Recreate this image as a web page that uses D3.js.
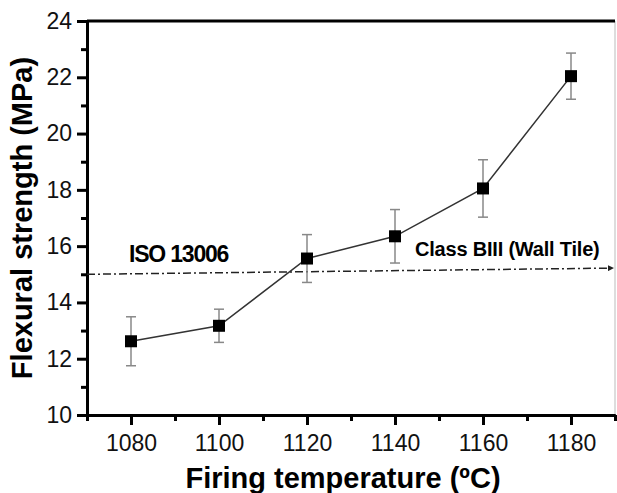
<!DOCTYPE html>
<html>
<head>
<meta charset="utf-8">
<script src="https://cdn.jsdelivr.net/npm/d3@7"></script>
<style>
  body { margin: 0; background: #fff; }
  text { font-family: "Liberation Sans", Arial, sans-serif; }
</style>
</head>
<body>
<div id="chart"></div>
<script>
// #############################################################
// DATA
// #############################################################
var temperatures = [1080, 1100, 1120, 1140, 1160, 1180];
var strength = [12.62, 13.17, 15.56, 16.35, 18.05, 22.04];
var strengthErr = [0.87, 0.59, 0.85, 0.95, 1.02, 0.82];

var xMajorTicks = [1080, 1100, 1120, 1140, 1160, 1180];
var xMinorTicks = [1070, 1090, 1110, 1130, 1150, 1170, 1190];
var yMajorTicks = [10, 12, 14, 16, 18, 20, 22, 24];
var yMinorTicks = [11, 13, 15, 17, 19, 21, 23];

// ISO 13006 limit line, start and end points (temperature, MPa)
var isoLineX = [1070, 1190];
var isoLineY = [15, 15.22];

// #############################################################
// PART I. CREATE SVG CANVAS
// #############################################################
var margin = {top: 21, right: 1, bottom: 78, left: 87},
    width = 617 - margin.left - margin.right - 1,
    height = 493 - margin.top - margin.bottom;

var svg = d3.select("#chart")
  .append("svg")
    .attr("width", 617)
    .attr("height", 493)
  .append("g")
    .attr("transform", "translate(" + margin.left + "," + margin.top + ")");

// arrow head for the reference line
svg.append("defs").append("marker")
    .attr("id", "arrow")
    .attr("viewBox", "0 0 10 10")
    .attr("refX", 10)
    .attr("refY", 5)
    .attr("markerWidth", 6)
    .attr("markerHeight", 6)
    .attr("markerUnits", "userSpaceOnUse")
    .attr("orient", "auto")
  .append("path")
    .attr("d", "M0,0 L10,5 L0,10 z")
    .attr("fill", "#222");

// #############################################################
// PART II. SCALES & AXES
// #############################################################
var xScale = d3.scaleLinear()
    .domain([1070, 1190])
    .range([0, width]);

var yScale = d3.scaleLinear()
    .domain([10, 24])
    .range([height, 0]);

// frame: thin right edge, thick top edge
svg.append("line")
    .attr("x1", width).attr("x2", width)
    .attr("y1", 0).attr("y2", height)
    .attr("stroke", "#bbb")
    .attr("stroke-width", 1);

svg.append("line")
    .attr("x1", 0).attr("x2", width)
    .attr("y1", 0).attr("y2", 0)
    .attr("stroke", "#000")
    .attr("stroke-width", 3);

// minor ticks
svg.append("g")
    .attr("class", "axis")
    .attr("transform", "translate(0," + height + ")")
    .call(d3.axisBottom(xScale).tickValues(xMinorTicks).tickSize(6).tickSizeOuter(0).tickFormat(""));

svg.append("g")
    .attr("class", "axis")
    .call(d3.axisLeft(yScale).tickValues(yMinorTicks).tickSize(6).tickSizeOuter(0).tickFormat(""));

// major ticks + labels
svg.append("g")
    .attr("class", "axis")
    .attr("transform", "translate(0," + height + ")")
    .call(d3.axisBottom(xScale).tickValues(xMajorTicks).tickSize(10).tickSizeOuter(0).tickPadding(10).tickFormat(d3.format("d")));

svg.append("g")
    .attr("class", "axis")
    .call(d3.axisLeft(yScale).tickValues(yMajorTicks).tickSize(10).tickSizeOuter(0).tickPadding(5).tickFormat(d3.format("d")));

svg.selectAll(".axis path")
    .attr("stroke", "#000")
    .attr("stroke-width", 3);
svg.selectAll(".axis line")
    .attr("stroke", "#000")
    .attr("stroke-width", 3);
svg.selectAll(".axis text")
    .attr("font-size", 23)
    .attr("fill", "#111")
    .style("font-family", "'Liberation Sans', Arial, sans-serif");

// axis titles
svg.append("text")
    .attr("text-anchor", "middle")
    .attr("transform", "translate(" + (-55) + "," + (height / 2) + ") rotate(-90)")
    .attr("font-size", 29)
    .attr("font-weight", "bold")
    .text("Flexural strength (MPa)");

svg.append("text")
    .attr("text-anchor", "middle")
    .attr("x", 256)
    .attr("y", height + 73)
    .attr("font-size", 29)
    .attr("font-weight", "bold")
    .text("Firing temperature (ºC)");

// #############################################################
// PART III. REFERENCE LINE & LABELS
// #############################################################
svg.append("line")
    .attr("x1", xScale(isoLineX[0]))
    .attr("y1", yScale(isoLineY[0]))
    .attr("x2", xScale(isoLineX[1]) - 1)
    .attr("y2", yScale(isoLineY[1]))
    .attr("stroke", "#222")
    .attr("stroke-width", 1.5)
    .attr("stroke-dasharray", "8,3,2,3")
    .attr("marker-end", "url(#arrow)");

svg.append("text")
    .attr("x", 42)
    .attr("y", 241)
    .attr("font-size", 23)
    .attr("font-weight", "bold")
    .attr("letter-spacing", -1.2)
    .text("ISO 13006");

svg.append("text")
    .attr("x", 328)
    .attr("y", 235)
    .attr("font-size", 20)
    .attr("font-weight", "bold")
    .attr("letter-spacing", -0.2)
    .text("Class BIII (Wall Tile)");

// #############################################################
// PART IV. DATA: LINE, ERROR BARS, MARKERS
// #############################################################
var data = temperatures.map(function(t, i) {
    return {t: t, v: strength[i], e: strengthErr[i]};
});

var line = d3.line()
    .x(d => xScale(d.t))
    .y(d => yScale(d.v));

svg.append("path")
    .datum(data)
    .attr("d", line)
    .attr("fill", "none")
    .attr("stroke", "#333")
    .attr("stroke-width", 1.5);

var gErr = svg.selectAll(".err")
    .data(data)
    .enter()
    .append("g")
    .attr("class", "err")
    .attr("stroke", "#888")
    .attr("stroke-width", 1.5);

gErr.append("line")
    .attr("x1", d => xScale(d.t)).attr("x2", d => xScale(d.t))
    .attr("y1", d => yScale(d.v + d.e)).attr("y2", d => yScale(d.v - d.e));
gErr.append("line")
    .attr("x1", d => xScale(d.t) - 5).attr("x2", d => xScale(d.t) + 5)
    .attr("y1", d => yScale(d.v + d.e)).attr("y2", d => yScale(d.v + d.e));
gErr.append("line")
    .attr("x1", d => xScale(d.t) - 5).attr("x2", d => xScale(d.t) + 5)
    .attr("y1", d => yScale(d.v - d.e)).attr("y2", d => yScale(d.v - d.e));

svg.selectAll(".dot")
    .data(data)
    .enter()
    .append("rect")
    .attr("class", "dot")
    .attr("x", d => xScale(d.t) - 6)
    .attr("y", d => yScale(d.v) - 6)
    .attr("width", 12)
    .attr("height", 12)
    .attr("fill", "#000");
</script>
</body>
</html>
